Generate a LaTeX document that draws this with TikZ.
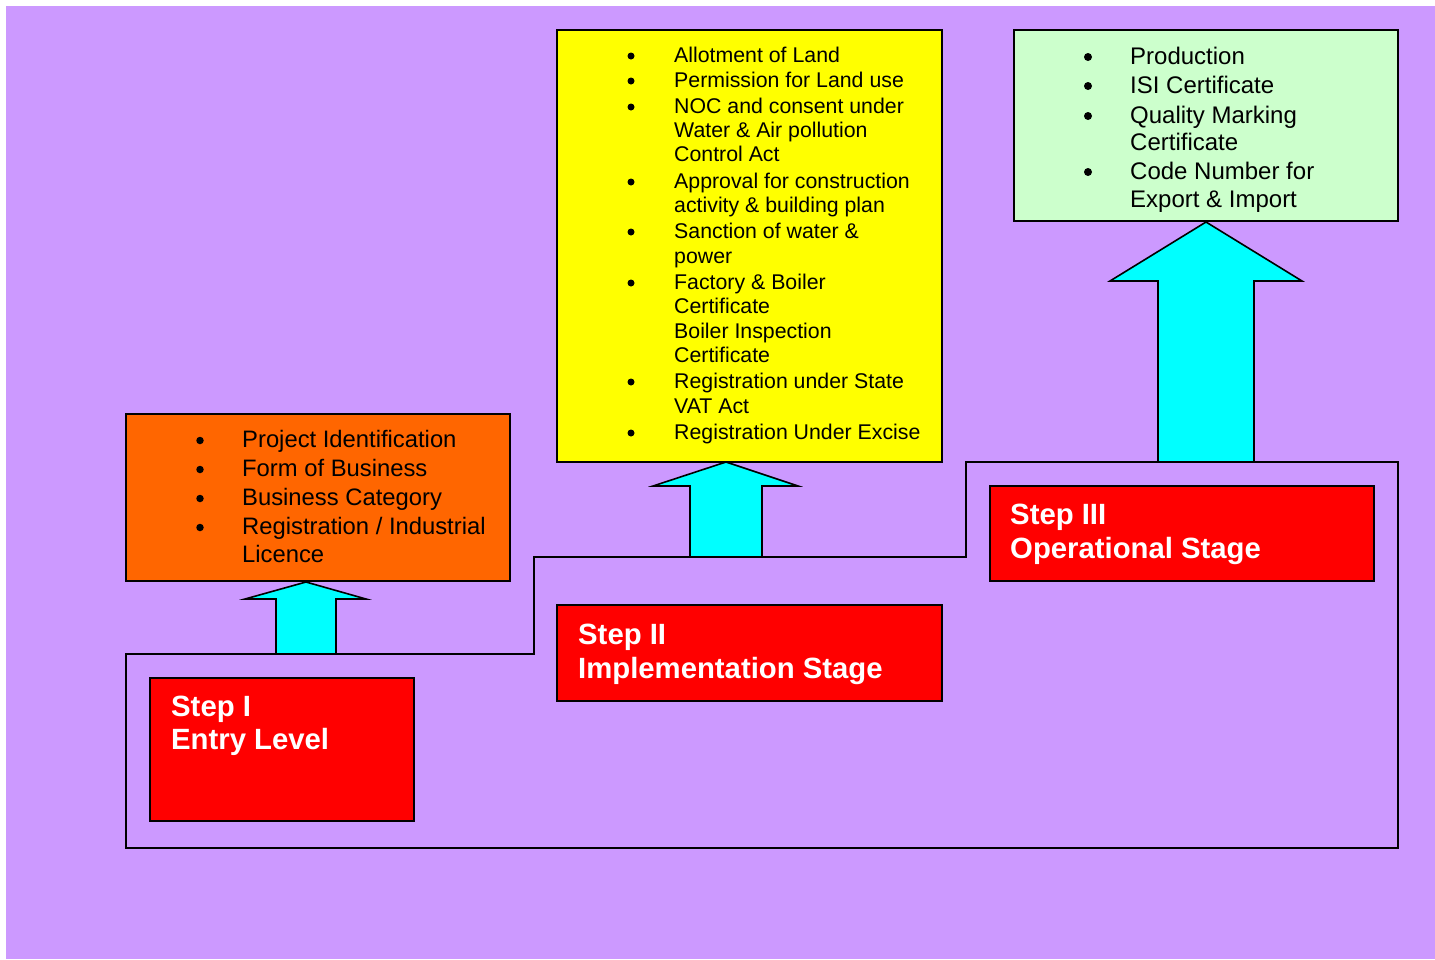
\documentclass[tikz,border=0pt]{standalone}
\usepackage{fontspec}
\setmainfont{Liberation Sans}
\definecolor{bgpurple}{HTML}{CC99FF}
\definecolor{orangebox}{HTML}{FF6600}
\definecolor{yellowbox}{HTML}{FFFF00}
\definecolor{greenbox}{HTML}{CCFFCC}
\definecolor{redbox}{HTML}{FF0000}
\definecolor{cyanarrow}{HTML}{00FFFF}
\tikzset{
  boxline/.style={draw=black, line width=1.6pt},
  arrowshape/.style={draw=black, line width=1.6pt, fill=cyanarrow, line join=miter},
  listtxt/.style={anchor=base west, inner sep=0pt, text=black},
  bul/.style={circle, fill=black, inner sep=0pt, minimum size=7.5pt},
  steptxt/.style={anchor=base west, inner sep=0pt, text=white, font=\fontsize{29.3}{33}\selectfont\bfseries}
}
\begin{document}
\begin{tikzpicture}[x=1pt,y=-1pt]
\useasboundingbox (0,0) rectangle (1435,959);
\fill[white] (0,0) rectangle (1435,959);
\fill[bgpurple] (6,6) rectangle (1435,959);

% stair outline
\coordinate (s1) at (126,654);
\coordinate (s2) at (534,654);
\coordinate (s3) at (534,557);
\coordinate (s4) at (966,557);
\coordinate (s5) at (966,462);
\coordinate (s6) at (1398,462);
\coordinate (s7) at (1398,848);
\coordinate (s8) at (126,848);
\draw[line width=1.6pt] (s1) -- (s2) -- (s3) -- (s4) -- (s5) -- (s6) -- (s7) -- (s8) -- cycle;

% arrows
\draw[arrowshape] (276,654) -- (276,599) -- (245,599) -- (306,582) -- (366,599) -- (336,599) -- (336,654) -- cycle;
\draw[arrowshape] (690,557) -- (690,486) -- (653,486) -- (726,462) -- (798,486) -- (762,486) -- (762,557) -- cycle;
\draw[arrowshape] (1158,462) -- (1158,281) -- (1110,281) -- (1206,222) -- (1302,281) -- (1254,281) -- (1254,462) -- cycle;

% boxes
\draw[boxline, fill=orangebox] (126,414) rectangle (510,581);
\draw[boxline, fill=yellowbox] (557,30) rectangle (942,462);
\draw[boxline, fill=greenbox] (1014,30) rectangle (1398,221);
\draw[boxline, fill=redbox] (150,678) rectangle (414,821);
\draw[boxline, fill=redbox] (557,605) rectangle (942,701);
\draw[boxline, fill=redbox] (990,486) rectangle (1374,581);

% step labels
\node[steptxt] (st1a) at (171,716) {Step I};
\node[steptxt] (st1b) at (171,749) {Entry Level};
\node[steptxt] (st2a) at (578,644) {Step II};
\node[steptxt] (st2b) at (578,678) {Implementation Stage};
\node[steptxt] (st3a) at (1010,524) {Step III};
\node[steptxt] (st3b) at (1010,558) {Operational Stage};

% orange list
\begin{scope}[every node/.append style={font=\fontsize{23.8}{28}\selectfont}]
\foreach \t/\yy/\b [count=\i] in {{Project Identification}/447/1, {Form of Business}/476/1, {Business Category}/505/1, {Registration / Industrial}/534/1, {Licence}/562/0}{
  \node[listtxt] (o\i) at (242,\yy) {\t};
  \ifnum\b=1 \node[bul] (ob\i) at (200,\yy-6.5) {};\fi
}
\end{scope}

% yellow list
\begin{scope}[every node/.append style={font=\fontsize{21.3}{25}\selectfont}]
\foreach \t/\yy/\b [count=\i] in {{Allotment of Land}/62/1, {Permission for Land use}/87/1, {NOC and consent under}/113/1, {Water \& Air pollution}/137/0, {Control Act}/161/0, {Approval for construction}/188/1, {activity \& building plan}/212/0, {Sanction of water \&}/238/1, {power}/263/0, {Factory \& Boiler}/289/1, {Certificate}/313/0, {Boiler Inspection}/338/0, {Certificate}/362/0, {Registration under State}/388/1, {VAT Act}/413/0, {Registration Under Excise}/439/1}{
  \node[listtxt] (y\i) at (674,\yy) {\t};
  \ifnum\b=1 \node[bul, minimum size=7pt] (yb\i) at (631,\yy-6) {};\fi
}
\end{scope}

% green list
\begin{scope}[every node/.append style={font=\fontsize{24}{28}\selectfont}]
\foreach \t/\yy/\b [count=\i] in {{Production}/64/1, {ISI Certificate}/93/1, {Quality Marking}/123/1, {Certificate}/150/0, {Code Number for}/179/1, {Export \& Import}/207/0}{
  \node[listtxt] (g\i) at (1130,\yy) {\t};
  \ifnum\b=1 \node[bul, minimum size=8pt] (gb\i) at (1088,\yy-7) {};\fi
}
\end{scope}
\end{tikzpicture}
\end{document}
